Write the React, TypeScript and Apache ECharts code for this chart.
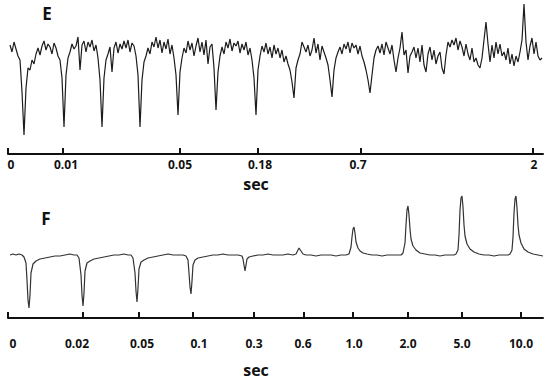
import React, { useEffect, useRef } from "react";
import * as echarts from "echarts";

// ---------- Panel E : noisy recording, sampled every 2 position units ----------
const E_START = 2;
const E_STEP = 2;
const eTrace = [
  5, -2, 8, 1, -6,
  -10, -42, -85, -38, -18,
  -20, -10, -14, -4, 2,
  -5, 4, 9, 0, 6,
  3, -4, 7, 2, -6,
  -10, -28, -77, -25, -8,
  -2, 6, 1, 4, 13,
  -20, 5, 9, -2, 8,
  3, 10, -1, 5, -8,
  -30, -77, -28, -10, -4,
  3, -22, 2, 8, -3,
  6, 1, 9, 2, 10,
  -2, 7, 4, -6, -25,
  -77, -30, -12, -6, 2,
  -4, 8, 3, 13, 2,
  10, -3, 8, 1, 11,
  -4, 5, -8, -25, -65,
  -22, -8, 2, -3, 9,
  0, 7, -6, 4, 12,
  -2, 8, -5, 10, -14,
  3, 6, -18, -60, -22,
  -6, 3, -4, 8, 2,
  11, -1, 7, 4, 9,
  -3, 6, 0, 8, -5,
  2, -10, -28, -65, -20,
  -6, 4, -2, 7, -4,
  3, -8, 5, -4, 2,
  -8, 0, -12, -6, -14,
  -20, -32, -48, -18, -10,
  -4, 8, 3, -2, 5,
  -6, 0, 12, -3, 6,
  -10, 4, -2, -8, -15,
  -30, -47, -20, -8, -2,
  3, -4, 6, 1, 8,
  -3, 7, 2, 5, -4,
  4, -6, -12, -20, -30,
  -43, -25, -8, 0, 4,
  -3, 6, -5, 8, 2,
  -4, 5, -10, -22, -8,
  2, 18, -5, 0, -23,
  -6, -2, 3, -8, 2,
  -12, 5, -15, -22, -4,
  3, -10, 0, -14, -6,
  -2, -18, -24, -5, 8,
  3, 10, 5, 12, 0,
  9, 3, -6, 6, -4,
  -10, 2, -12, -8, -15,
  -18, -8, 10, 28, 6,
  -12, 5, -8, 8, -4,
  6, -6, -2, -10, 2,
  -14, -4, -16, -6, -12,
  -2, 10, 46, 8, -10,
  4, 12, -4, 8, -6,
  -10, -8,
];
const eTickPos = [0, 55, 172, 250, 353, 525];
const eLabelPos = [3, 58, 172, 252, 350, 526];
const eTickLabels = ["0", "0.01", "0.05", "0.18", "0.7", "2"];

// ---------- Panel F : smooth recording, [position, amplitude] ----------
const fTrace: [number, number][] = [
  [2, 0], [5, 1], [8, 0], [11, 1], [14, 0], [16, -2], [18, -8], [19, -25], [20, -45], [21, -53],
  [22, -40], [23, -18], [25, -9], [28, -6], [32, -4], [37, -3], [42, -2], [47, -1], [52, -1], [57, 0],
  [62, 1], [66, 0], [69, 0], [71, -3], [73, -20], [74, -40], [75, -51], [76, -38], [77, -16], [79, -8],
  [82, -6], [86, -4], [91, -3], [96, -2], [101, -1], [106, 0], [111, 0], [116, 1], [120, 0], [123, 0],
  [125, -3], [127, -18], [128, -36], [129, -47], [130, -33], [131, -14], [133, -7], [136, -5], [140, -3], [145, -2],
  [150, -1], [155, 0], [160, 1], [165, 0], [170, 0], [175, 0], [178, -1], [180, -5], [181, -18], [182, -32],
  [183, -39], [184, -26], [185, -10], [187, -5], [190, -3], [195, -2], [200, -1], [205, 0], [210, 0], [215, 1],
  [220, 0], [225, 0], [230, 0], [234, -1], [235, -4], [236, -10], [237, -16], [238, -10], [239, -4], [241, -2],
  [245, -1], [250, 0], [255, 0], [260, 1], [265, 0], [270, 0], [275, 0], [280, 1], [285, 0], [288, 1],
  [289, 3], [291, 7], [293, 4], [295, 1], [298, 0], [303, 0], [308, -1], [313, 0], [318, 0], [323, 0],
  [328, -1], [333, 0], [338, 0], [341, 1], [343, 8], [344, 18], [345, 26], [346, 28], [347, 22], [348, 13],
  [350, 7], [352, 4], [355, 2], [359, 1], [364, 0], [369, 0], [374, -1], [379, 0], [384, 0], [389, 0],
  [393, 0], [395, 2], [397, 12], [398, 30], [399, 45], [400, 49], [401, 40], [402, 26], [403, 16], [405, 9],
  [408, 5], [412, 2], [417, 1], [422, 0], [427, 0], [432, -1], [437, 0], [442, 0], [446, 0], [448, 1],
  [450, 5], [451, 20], [452, 45], [453, 57], [454, 59], [455, 48], [456, 30], [457, 19], [459, 11], [462, 6],
  [466, 3], [471, 1], [476, 0], [481, 0], [486, -1], [491, 0], [496, 0], [500, 0], [502, 1], [504, 5],
  [505, 18], [506, 42], [507, 56], [508, 59], [509, 47], [510, 30], [511, 20], [513, 12], [516, 6], [520, 3],
  [525, 1], [530, 0], [535, -1],
];
const fTickPos = [0, 75, 131, 185, 246, 296, 345, 400, 454, 513];
const fLabelPos = [5, 69, 134, 191, 246, 295, 346, 400, 454, 513];
const fTickLabels = ["0", "0.02", "0.05", "0.1", "0.3", "0.6", "1.0", "2.0", "5.0", "10.0"];

const FONT = "'Open Sans', 'Noto Sans', sans-serif";
const INK = "#111";

function labelFormatter(pos: number[], labels: string[]) {
  return (v: number) => {
    const i = pos.findIndex((p) => Math.abs(p - v) < 0.01);
    return i >= 0 ? labels[i] : "";
  };
}

function xAxisFor(gridIndex: number, tickPos: number[], labelPos: number[], labels: string[], margin: number) {
  return {
    type: "value",
    gridIndex,
    min: 0,
    max: 535,
    position: "bottom",
    splitLine: { show: false },
    axisLine: { show: true, onZero: false, lineStyle: { color: INK, width: 2 } },
    axisTick: {
      show: true,
      inside: true,
      length: 6,
      customValues: tickPos,
      lineStyle: { color: INK, width: 2 },
    },
    axisLabel: {
      show: true,
      customValues: labelPos,
      formatter: labelFormatter(labelPos, labels),
      margin,
      color: INK,
      fontSize: 12,
      fontWeight: "bold",
      fontFamily: FONT,
      lineHeight: 12,
      showMinLabel: true,
      showMaxLabel: true,
      hideOverlap: false,
    },
  };
}

export default function App() {
  const ref = useRef<HTMLDivElement>(null);

  useEffect(() => {
    if (!ref.current) return;
    const chart = echarts.init(ref.current, undefined, { renderer: "svg" });
    const eData = eTrace.map((v, i) => [E_START + i * E_STEP, v]);

    chart.setOption({
      animation: false,
      backgroundColor: "#ffffff",
      grid: [
        { left: 8, right: 7, top: 4, height: 150 },
        { left: 8, right: 7, top: 188, height: 130 },
      ],
      xAxis: [
        xAxisFor(0, eTickPos, eLabelPos, eTickLabels, 4),
        xAxisFor(1, fTickPos, fLabelPos, fTickLabels, 19),
      ],
      yAxis: [
        { type: "value", gridIndex: 0, min: -104, max: 46, show: false },
        { type: "value", gridIndex: 1, min: -63, max: 67, show: false },
      ],
      series: [
        {
          type: "line",
          xAxisIndex: 0,
          yAxisIndex: 0,
          data: eData,
          showSymbol: false,
          silent: true,
          clip: false,
          lineStyle: { color: "#1c1c1c", width: 1.2 },
        },
        {
          type: "line",
          xAxisIndex: 1,
          yAxisIndex: 1,
          data: fTrace,
          showSymbol: false,
          silent: true,
          clip: false,
          lineStyle: { color: "#333333", width: 1.2 },
        },
      ],
      graphic: [
        {
          type: "text",
          x: 47,
          y: 13,
          style: { text: "E", fill: INK, font: `bold 17px ${FONT}`, textAlign: "center", textVerticalAlign: "middle" },
        },
        {
          type: "text",
          x: 46,
          y: 218,
          style: { text: "F", fill: INK, font: `bold 17px ${FONT}`, textAlign: "center", textVerticalAlign: "middle" },
        },
        {
          type: "text",
          x: 256,
          y: 184,
          style: { text: "sec", fill: INK, font: `bold 16px ${FONT}`, textAlign: "center", textVerticalAlign: "middle" },
        },
        {
          type: "text",
          x: 256,
          y: 370,
          style: { text: "sec", fill: INK, font: `bold 16px ${FONT}`, textAlign: "center", textVerticalAlign: "middle" },
        },
      ],
    });

    return () => chart.dispose();
  }, []);

  return (
    <div
      ref={ref}
      style={{ position: "fixed", left: 0, top: 0, width: 550, height: 380, background: "#fff" }}
    />
  );
}
